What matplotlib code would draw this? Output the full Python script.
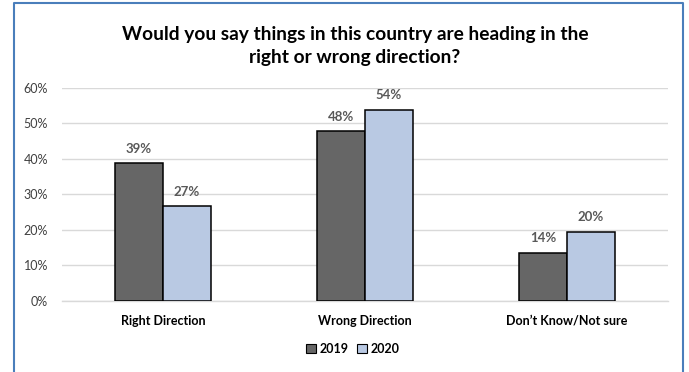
import matplotlib
matplotlib.use("Agg")
import matplotlib.pyplot as plt
from matplotlib.patches import Patch
from matplotlib.lines import Line2D
from matplotlib.ticker import FuncFormatter

plt.rcParams['font.family'] = ['Lato', 'DejaVu Sans']

# data
categories = ['Right Direction', 'Wrong Direction', 'Don\u2019t Know/Not sure']
years = ['2019', '2020']
values_2019 = [38.7, 47.8, 13.6]
values_2020 = [26.7, 53.8, 19.5]
yticks = [0, 10, 20, 30, 40, 50, 60]

col_2019 = '#666666'
col_2020 = '#b9c9e3'
text_col = '#404040'
grid_col = '#d9d9d9'
frame_col = '#4a7ebb'

fig = plt.figure(figsize=(6.89, 3.72), dpi=100)
ax = fig.add_axes([0.090, 0.191, 0.8795, 0.573])

width = 0.238
x = range(len(categories))
bars1 = ax.bar([i - width / 2 for i in x], values_2019, width,
               color=col_2019, edgecolor='black', linewidth=1.1, zorder=3)
bars2 = ax.bar([i + width / 2 for i in x], values_2020, width,
               color=col_2020, edgecolor='black', linewidth=1.1, zorder=3)

for bars, vals in ((bars1, values_2019), (bars2, values_2020)):
    for b, v in zip(bars, vals):
        ax.annotate(f'{round(v)}%', (b.get_x() + b.get_width() / 2, v),
                    xytext=(0, 6), textcoords='offset points',
                    ha='center', va='bottom', fontsize=9.5, fontweight='bold',
                    color='#595959')

ax.set_xlim(-0.5, len(categories) - 0.5)
ax.set_ylim(0, 60)
ax.set_yticks(yticks)
ax.yaxis.set_major_formatter(FuncFormatter(lambda v, p: f'{v:.0f}%'))
ax.set_xticks(list(x))
ax.set_xticklabels(categories, fontsize=9, fontweight='bold', color='black')
ax.tick_params(axis='y', labelsize=9, labelcolor=text_col, length=0, pad=10)
ax.tick_params(axis='x', length=0, pad=10)
ax.grid(axis='y', color=grid_col, linewidth=1.0, zorder=0)
for s in ['top', 'right', 'left']:
    ax.spines[s].set_visible(False)
ax.spines['bottom'].set_color(grid_col)
ax.spines['bottom'].set_linewidth(1.0)

fig.text(0.515, 0.877, 'Would you say things in this country are heading in the\nright or wrong direction?',
         ha='center', va='center', fontsize=13.8, fontweight='bold', color='black',
         linespacing=1.4)

handles = [Patch(facecolor=col_2019, edgecolor='black', linewidth=0.8),
           Patch(facecolor=col_2020, edgecolor='black', linewidth=0.8)]
leg = fig.legend(handles, years, loc='center', bbox_to_anchor=(0.512, 0.062),
                 ncol=2, frameon=False, handlelength=0.8, handleheight=0.8,
                 handletextpad=0.3, columnspacing=0.7, prop={'size': 9, 'weight': 'bold'})

# blue chart border (bottom edge is cut off in the reference)
fx = [14 / 689, 14 / 689, 683 / 689, 683 / 689]
fy = [0.0, 1 - 3 / 372, 1 - 3 / 372, 0.0]
fig.add_artist(Line2D(fx, fy, color=frame_col, linewidth=1.5))

fig.savefig('out.png', dpi=100)
